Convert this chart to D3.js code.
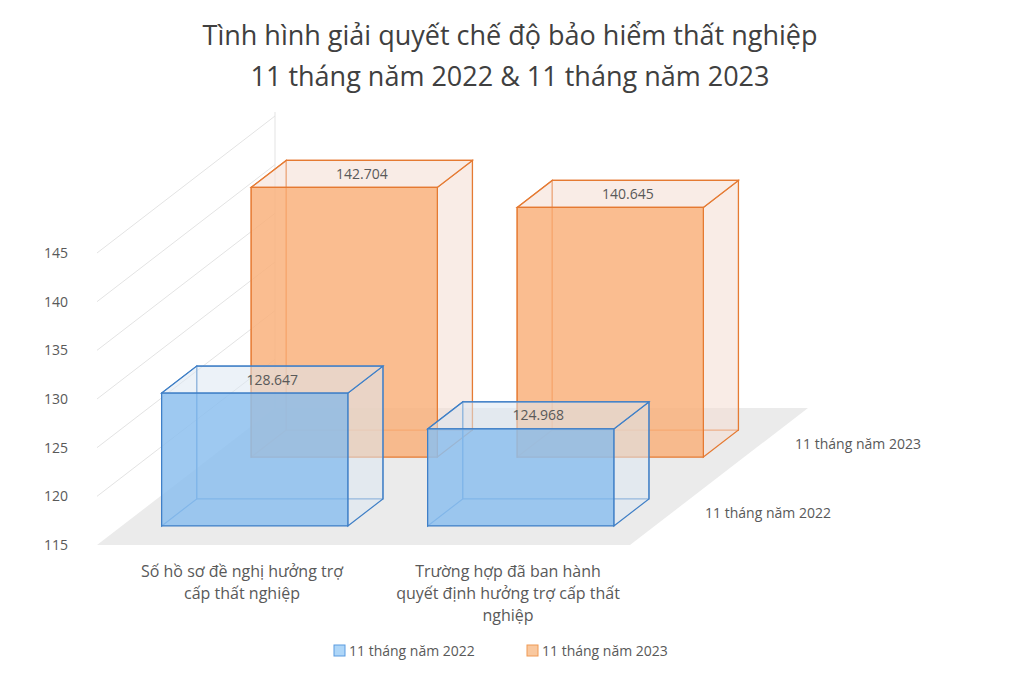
<!DOCTYPE html>
<html><head><meta charset="utf-8">
<script src="https://cdn.jsdelivr.net/npm/d3@7/dist/d3.min.js"></script>
<style>body{margin:0;background:#fff}</style></head>
<body><svg id="c" width="1020" height="678"></svg>
<script>
const categories = [["Số hồ sơ đề nghị hưởng trợ","cấp thất nghiệp"],["Trường hợp đã ban hành","quyết định hưởng trợ cấp thất","nghiệp"]];
const seriesNames = ["11 tháng năm 2022","11 tháng năm 2023"];
const values2022 = [128.647, 124.968];
const values2023 = [142.704, 140.645];
const yTicks = [115,120,125,130,135,140,145];
const labels2022 = ["128.647","124.968"];
const labels2023 = ["142.704","140.645"];

const svg = d3.select("#c");
const font = "'Open Sans', sans-serif";
const X0 = 97, Y0 = 545, DX = 178, DY = 137;
const y = d3.scaleLinear().domain([115,145]).range([0,292]);
const xCat = d3.scaleBand().domain([0,1]).range([0,532]).paddingInner(0.3).paddingOuter(0.15);
const zRows = [[0.139,0.336],[0.642,0.839]];
const P = (X,z,v) => [X0 + X + z*DX, Y0 - y(v) - z*DY];

svg.append("text").attr("x",510).attr("y",45).attr("text-anchor","middle").attr("font-family",font).attr("font-size",27).attr("fill","#404040").text("Tình hình giải quyết chế độ bảo hiểm thất nghiệp");
svg.append("text").attr("x",510).attr("y",86).attr("text-anchor","middle").attr("font-family",font).attr("font-size",27).attr("fill","#404040").text("11 tháng năm 2022 & 11 tháng năm 2023");

svg.append("polygon").attr("points",[P(0,0,115),P(533,0,115),P(533,1,115),P(0,1,115)].map(p=>p.join(",")).join(" ")).attr("fill","#ebebeb");
yTicks.forEach(t=>{
  const a=P(0,0,t), b=P(0,1,t);
  if(t>115) svg.append("line").attr("x1",a[0]).attr("y1",a[1]).attr("x2",b[0]).attr("y2",b[1]).attr("stroke","#e3e3e3");
  svg.append("text").attr("x",68).attr("y",a[1]+5).attr("text-anchor","end").attr("font-family",font).attr("font-size",14).attr("fill","#595959").text(t);
});
const wallTop=P(0,1,145);
svg.append("line").attr("x1",X0+DX).attr("y1",Y0-DY).attr("x2",wallTop[0]).attr("y2",wallTop[1]-4).attr("stroke","#e3e3e3");

function bar(i,row,v,fill,stroke,side,label){
  const x1=xCat(i), x2=xCat(i)+xCat.bandwidth(), [z1,z2]=zRows[row];
  const g=svg.append("g");
  const poly=(pts,f,o)=>g.append("polygon").attr("points",pts.map(p=>p.join(",")).join(" ")).attr("fill",f).attr("fill-opacity",o).attr("stroke",stroke).attr("stroke-width",1.2);
  poly([P(x1,z2,115),P(x2,z2,115),P(x2,z2,v),P(x1,z2,v)],"none",0);
  poly([P(x1,z1,115),P(x1,z2,115),P(x1,z2,v),P(x1,z1,v)],"none",0);
  poly([P(x2,z1,115),P(x2,z2,115),P(x2,z2,v),P(x2,z1,v)],side,0.55);
  poly([P(x1,z1,v),P(x2,z1,v),P(x2,z2,v),P(x1,z2,v)],side,0.55);
  poly([P(x1,z1,115),P(x2,z1,115),P(x2,z1,v),P(x1,z1,v)],fill,0.85);
  const a=P((x1+x2)/2,(z1+z2)/2,v);
  g.append("text").attr("x",a[0]).attr("y",a[1]+5).attr("text-anchor","middle").attr("font-family",font).attr("font-size",14).attr("fill","#595959").text(label);
}
[0,1].forEach(i=>bar(i,1,values2023[i],"#f9b27c","#e57a32","#f4ddd2",labels2023[i]));
[0,1].forEach(i=>bar(i,0,values2022[i],"#8dc0ee","#3f7fc6","#dde8f2",labels2022[i]));

categories.forEach((lines,i)=>{
  const cx=X0+xCat(i)+xCat.bandwidth()/2+12;
  lines.forEach((l,j)=>svg.append("text").attr("x",cx).attr("y",577+j*22).attr("text-anchor","middle").attr("font-family",font).attr("font-size",16).attr("fill","#595959").text(l));
});
svg.append("text").attr("x",858).attr("y",449).attr("text-anchor","middle").attr("font-family",font).attr("font-size",14).attr("fill","#595959").text(seriesNames[1]);
svg.append("text").attr("x",768).attr("y",518).attr("text-anchor","middle").attr("font-family",font).attr("font-size",14).attr("fill","#595959").text(seriesNames[0]);

const leg=[[334,"#aed6f8","#5a9be0"],[527,"#f9c89f","#ef9a55"]];
leg.forEach((d,i)=>{
  svg.append("rect").attr("x",d[0]).attr("y",645).attr("width",11).attr("height",11).attr("fill",d[1]).attr("stroke",d[2]);
  svg.append("text").attr("x",d[0]+15).attr("y",656).attr("font-family",font).attr("font-size",14).attr("fill","#595959").text(seriesNames[i]);
});
</script></body></html>
